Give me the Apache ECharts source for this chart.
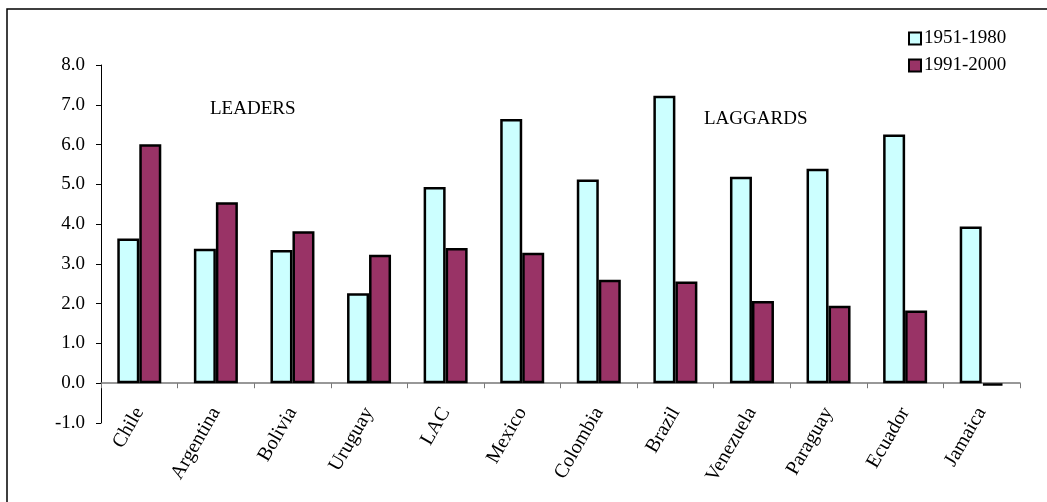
<!DOCTYPE html>
<html>
<head>
<meta charset="utf-8">
<script src="https://cdn.jsdelivr.net/npm/echarts@6/dist/echarts.min.js"></script>
<style>
  html, body { margin: 0; padding: 0; background: #fff; }
  #chart { width: 1047px; height: 502px; }
</style>
</head>
<body>
<div id="chart"></div>
<script type="text/javascript">

var countries = ['Chile', 'Argentina', 'Bolivia', 'Uruguay', 'LAC', 'Mexico',
	'Colombia', 'Brazil', 'Venezuela', 'Paraguay', 'Ecuador', 'Jamaica'];
var growth5180 = [3.64, 3.38, 3.35, 2.26, 4.93, 6.64, 5.12, 7.23, 5.19, 5.39, 6.25, 3.94];
var growth9100 = [6.01, 4.55, 3.82, 3.23, 3.40, 3.28, 2.60, 2.56, 2.07, 1.95, 1.83, -0.06];
var yTicks = [-1, 0, 1, 2, 3, 4, 5, 6, 7, 8];

var serif = 'Liberation Serif';

var chart = echarts.init(document.getElementById('chart'));

var option = {
	animation: false,
	backgroundColor: '#fff',
	textStyle: { fontFamily: serif, color: '#000' },
	grid: { left: 101, right: 27, top: 65, bottom: 79, outerBoundsMode: 'none' },
	legend: {
		orient: 'vertical',
		left: 903,
		top: 24,
		itemWidth: 12,
		itemHeight: 12,
		itemGap: 8,
		icon: 'rect',
		itemStyle: { borderColor: '#000', borderWidth: 2 },
		textStyle: { fontFamily: serif, fontSize: 19, color: '#000', padding: [0, 0, 0, -2] },
		data: ['1951-1980', '1991-2000']
	},
	xAxis: {
		type: 'category',
		data: countries,
		axisLine: { onZero: true, lineStyle: { color: '#777', width: 1.5 } },
		axisTick: { show: true, length: 5, inside: false, lineStyle: { color: '#777' } },
		axisLabel: {
			rotate: 60,
			margin: -14,
			interval: 0,
			fontFamily: serif,
			fontSize: 20,
			color: '#000'
		}
	},
	yAxis: {
		type: 'value',
		min: yTicks[0],
		max: yTicks[yTicks.length - 1],
		interval: 1,
		splitLine: { show: false },
		axisLine: { show: true, lineStyle: { color: '#000', width: 1 } },
		axisTick: { show: true, length: 5, lineStyle: { color: '#000' } },
		axisLabel: {
			margin: 16,
			fontFamily: serif,
			fontSize: 19,
			color: '#000',
			formatter: function (v) { return v.toFixed(1); }
		}
	},
	graphic: [
		{
			type: 'rect',
			shape: { x: 7, y: 9, width: 1200, height: 700 },
			style: { fill: 'none', stroke: '#000', lineWidth: 1.5 },
			silent: true
		},
		{
			type: 'text', left: 210, top: 100,
			style: { text: 'LEADERS', font: '19px "Liberation Serif"', fill: '#000' }
		},
		{
			type: 'text', left: 704, top: 110,
			style: { text: 'LAGGARDS', font: '19px "Liberation Serif"', fill: '#000' }
		}
	],
	series: [
		{
			name: '1951-1980',
			type: 'bar',
			data: growth5180,
			barWidth: 22,
			barGap: '0%',
			itemStyle: { color: '#CCFFFF', borderColor: '#000', borderWidth: 2.5 }
		},
		{
			name: '1991-2000',
			type: 'bar',
			data: growth9100,
			barWidth: 22,
			barGap: '0%',
			itemStyle: { color: '#993366', borderColor: '#000', borderWidth: 2.5 }
		}
	]
};

chart.setOption(option);
</script>
</body>
</html>
